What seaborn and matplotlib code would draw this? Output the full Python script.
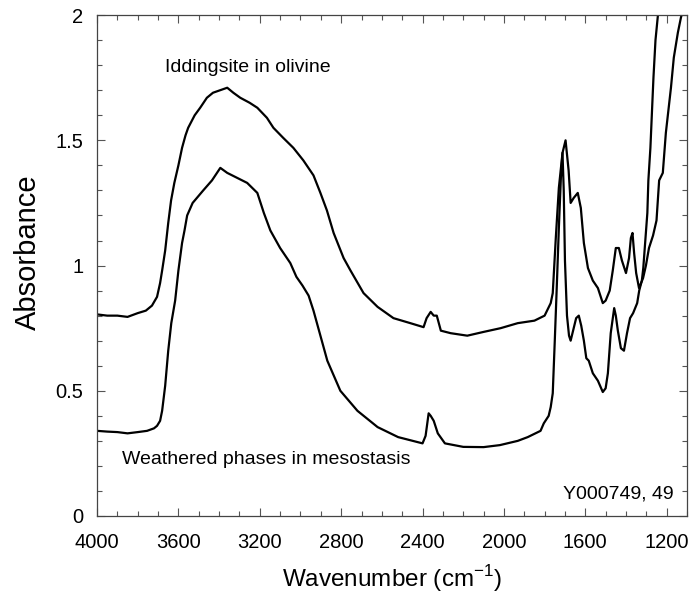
import numpy as np
import pandas as pd
import matplotlib
matplotlib.use("Agg")
import matplotlib.pyplot as plt
import seaborn as sns
from matplotlib.ticker import MultipleLocator, FixedLocator

# ---- data ----
idd_wn = [4000, 3950, 3900, 3850, 3800, 3760, 3730, 3705, 3690, 3680, 3665, 3650,
          3636, 3620, 3600, 3582, 3565, 3552, 3520, 3493, 3460, 3430, 3395, 3360,
          3330, 3296, 3250, 3212, 3165, 3133, 3085, 3035, 2986, 2936, 2902, 2870,
          2837, 2788, 2754, 2690, 2621, 2543, 2460, 2395, 2380, 2360, 2345, 2330,
          2310, 2262, 2180, 2100, 2016, 1932, 1850, 1800, 1770, 1760, 1745, 1730,
          1712, 1697, 1682, 1672, 1657, 1637, 1622, 1607, 1587, 1563, 1538, 1514,
          1500, 1480, 1465, 1450, 1435, 1420, 1400, 1385, 1376, 1368, 1360, 1350,
          1336, 1316, 1302, 1287, 1267, 1250, 1237, 1219, 1204, 1179, 1165, 1145,
          1130, 1110]
idd_abs = [0.805, 0.80, 0.80, 0.795, 0.81, 0.82, 0.84, 0.875, 0.93, 0.98, 1.06, 1.17,
           1.26, 1.33, 1.40, 1.47, 1.52, 1.55, 1.60, 1.63, 1.67, 1.69, 1.70, 1.71,
           1.69, 1.67, 1.65, 1.63, 1.59, 1.55, 1.51, 1.47, 1.42, 1.36, 1.29, 1.22,
           1.13, 1.03, 0.98, 0.89, 0.835, 0.79, 0.77, 0.754, 0.79, 0.815, 0.80, 0.80,
           0.74, 0.73, 0.72, 0.735, 0.75, 0.77, 0.78, 0.80, 0.85, 0.89, 1.11, 1.31,
           1.45, 1.50, 1.38, 1.25, 1.27, 1.29, 1.23, 1.09, 0.99, 0.94, 0.91, 0.85,
           0.86, 0.90, 0.98, 1.07, 1.07, 1.02, 0.97, 1.03, 1.11, 1.13, 1.05, 0.97,
           0.91, 0.95, 1.00, 1.07, 1.12, 1.18, 1.34, 1.37, 1.53, 1.71, 1.83, 1.93,
           1.99, 2.05]

wea_wn = [4000, 3950, 3900, 3850, 3800, 3754, 3720, 3705, 3690, 3680, 3665, 3650,
          3635, 3616, 3600, 3582, 3570, 3557, 3530, 3478, 3435, 3394, 3360, 3311,
          3262, 3212, 3180, 3148, 3100, 3050, 3020, 2990, 2960, 2936, 2868, 2804,
          2720, 2621, 2520, 2400, 2385, 2370, 2360, 2345, 2325, 2290, 2200, 2100,
          2020, 1932, 1883, 1820, 1804, 1780, 1770, 1760, 1750, 1740, 1730, 1720,
          1712, 1706, 1700, 1690, 1680, 1672, 1660, 1645, 1632, 1620, 1607, 1595,
          1583, 1563, 1538, 1514, 1500, 1489, 1475, 1458, 1450, 1440, 1425, 1410,
          1395, 1380, 1365, 1345, 1335, 1322, 1315, 1305, 1295, 1290, 1280, 1272,
          1265, 1255, 1243, 1235]
wea_abs = [0.34, 0.337, 0.335, 0.33, 0.335, 0.34, 0.35, 0.36, 0.38, 0.42, 0.52, 0.66,
           0.77, 0.86, 0.98, 1.09, 1.14, 1.20, 1.25, 1.30, 1.34, 1.39, 1.37, 1.35,
           1.33, 1.29, 1.21, 1.14, 1.07, 1.01, 0.955, 0.92, 0.88, 0.82, 0.62, 0.50,
           0.42, 0.355, 0.315, 0.29, 0.32, 0.41, 0.40, 0.38, 0.33, 0.29, 0.276, 0.275,
           0.283, 0.30, 0.315, 0.34, 0.37, 0.40, 0.435, 0.49, 0.70, 0.92, 1.15, 1.35,
           1.45, 1.30, 1.02, 0.80, 0.72, 0.70, 0.74, 0.79, 0.80, 0.76, 0.70, 0.63,
           0.62, 0.57, 0.54, 0.495, 0.51, 0.57, 0.73, 0.83, 0.80, 0.74, 0.67, 0.66,
           0.73, 0.79, 0.81, 0.85, 0.90, 0.94, 0.99, 1.10, 1.21, 1.34, 1.47, 1.62,
           1.75, 1.90, 2.00, 2.05]

x_ticks = [4000, 3600, 3200, 2800, 2400, 2000, 1600, 1200]
y_ticks = [0, 0.5, 1, 1.5, 2]
y_tick_labels = ["0", "0.5", "1", "1.5", "2"]

label_idd = "Iddingsite in olivine"
label_wea = "Weathered phases in mesostasis"
sample_id = "Y000749, 49"

# ---- build tables ----
df_idd = pd.DataFrame({"wn": idd_wn, "abs": idd_abs})
df_wea = pd.DataFrame({"wn": wea_wn, "abs": wea_abs})

sns.set_theme(style="ticks")
plt.rcParams["font.family"] = ["Liberation Sans", "DejaVu Sans"]
plt.rcParams["mathtext.fontset"] = "custom"
plt.rcParams["mathtext.rm"] = "Liberation Sans"
plt.rcParams["text.color"] = "black"
plt.rcParams["axes.labelcolor"] = "black"

fig = plt.figure(figsize=(6.96, 6.04), dpi=100)
ax = fig.add_axes([0.1394, 0.1457, 0.9871 - 0.1394, 0.975 - 0.1457])

sns.lineplot(data=df_idd, x="wn", y="abs", sort=False, estimator=None,
             color="black", linewidth=1.6, ax=ax)
sns.lineplot(data=df_wea, x="wn", y="abs", sort=False, estimator=None,
             color="black", linewidth=1.6, ax=ax)

ax.set_xlim(4000, 1100)
ax.set_ylim(0, 2)

ax.xaxis.set_major_locator(FixedLocator(x_ticks))
ax.xaxis.set_minor_locator(MultipleLocator(100))
ax.set_xticklabels([str(t) for t in x_ticks])
ax.yaxis.set_major_locator(FixedLocator(y_ticks))
ax.yaxis.set_minor_locator(MultipleLocator(0.1))
ax.set_yticklabels(y_tick_labels)

ax.tick_params(which="both", direction="in", top=True, right=True,
               color="#555555", width=0.8)
ax.tick_params(which="major", length=6, labelsize=14.5, labelcolor="black")
ax.tick_params(axis="x", which="major", pad=12)
ax.tick_params(axis="y", which="major", pad=10)
ax.tick_params(which="minor", length=3.5)

for s in ax.spines.values():
    s.set_linewidth(0.9)
    s.set_color("#444444")

ax.set_xlabel("Wavenumber (cm$^{-1}$)", fontsize=17.5, labelpad=8, color="black")
ax.set_ylabel("Absorbance", fontsize=21, color="black")
ax.yaxis.set_label_coords(-0.093, 0.527)

ax.text(3665, 1.79, label_idd, fontsize=14, ha="left", va="center", color="black")
ax.text(3877, 0.224, label_wea, fontsize=14, ha="left", va="center", color="black")
ax.text(1164, 0.088, sample_id, fontsize=14, ha="right", va="center", color="black")

fig.savefig("out.png", dpi=100)
